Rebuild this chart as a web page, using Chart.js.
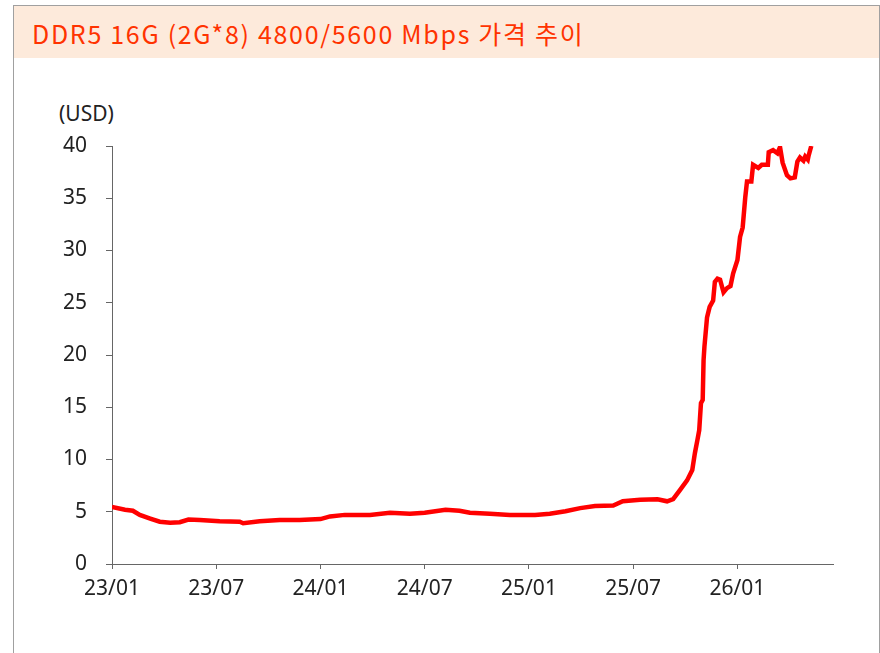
<!DOCTYPE html>
<html>
<head>
<meta charset="utf-8">
<script src="https://cdn.jsdelivr.net/npm/chart.js@4/dist/chart.umd.min.js"></script>
<style>
    html, body { margin: 0; padding: 0; background: #fff; }
    body { width: 880px; height: 653px; position: relative; overflow: hidden; }
    #frame {
        position: absolute; left: 13px; top: 5px; width: 865px; height: 660px;
        border: 1px solid #a0a0a0; border-bottom: none;
    }
    #titleBar {
        height: 52px; background: #fdeadb;
        font-family: "Noto Sans CJK KR", sans-serif; font-size: 25px; color: #ff3300;
        letter-spacing: 1.7px; line-height: 54px; padding-left: 18px; white-space: nowrap;
    }
    #unit {
        position: absolute; left: 59px; top: 103px; line-height: 21px;
        font-family: "Noto Sans", sans-serif; font-size: 21px; color: #222;
    }
    #wrap { position: absolute; left: 0; top: 0; width: 880px; height: 653px; }
</style>
</head>
<body>
<div id="frame"><div id="titleBar">DDR5 16G (2G*8) 4800/5600 Mbps 가격 추이</div></div>
<div id="unit">(USD)</div>
<div id="wrap"><canvas id="myChart" width="880" height="653"></canvas></div>
<script>
// months since 23/01
const monthPos = [
    0, 0.75, 1.2, 1.6, 2.2, 2.75, 3.35, 3.9, 4.4, 5.05,
    6.2, 7.35, 7.55, 8.5, 9.65, 10.8, 12.0, 12.55, 13.4, 14.85,
    16.0, 17.15, 18.0, 19.2, 20.0, 20.6, 21.75, 22.9, 24.35, 25.2,
    26.1, 26.95, 27.8, 28.85, 29.4, 30.4, 31.4, 31.95, 32.3, 32.7,
    33.1, 33.4, 33.55, 33.7, 33.8, 33.9, 34.0, 34.05, 34.1, 34.25,
    34.4, 34.6, 34.7, 34.85, 35.0, 35.2, 35.4, 35.6, 35.75, 36.0,
    36.15, 36.3, 36.45, 36.55, 36.8, 36.9, 37.2, 37.4, 37.75, 37.8,
    38.05, 38.3, 38.45, 38.6, 38.85, 39.05, 39.3, 39.45, 39.6, 39.8,
    39.9, 40.05, 40.1, 40.25
];
const priceUsd = [
    5.45, 5.2, 5.1, 4.7, 4.35, 4.05, 3.95, 4.0, 4.25, 4.2,
    4.1, 4.05, 3.9, 4.1, 4.2, 4.2, 4.3, 4.55, 4.7, 4.7,
    4.9, 4.8, 4.9, 5.2, 5.1, 4.9, 4.8, 4.7, 4.7, 4.8,
    5.05, 5.35, 5.55, 5.6, 6.0, 6.15, 6.2, 6.0, 6.2, 7.1,
    8.0, 9.0, 10.6, 11.9, 12.8, 15.4, 15.7, 19.5, 20.8, 23.6,
    24.6, 25.2, 27.0, 27.3, 27.2, 26.0, 26.4, 26.6, 27.8, 29.1,
    31.3, 32.2, 35.1, 36.6, 36.6, 38.2, 37.9, 38.2, 38.2, 39.4,
    39.6, 39.3, 39.9, 38.4, 37.2, 36.9, 37.0, 38.5, 38.9, 38.6,
    39.0, 38.7, 39.1, 40.0
];
const xTickLabels = ['23/01', '23/07', '24/01', '24/07', '25/01', '25/07', '26/01'];
const xTickMonths = [0, 6, 12, 18, 24, 30, 36];
const yTicks = [0, 5, 10, 15, 20, 25, 30, 35, 40];

const points = monthPos.map((m, i) => ({ x: m, y: priceUsd[i] }));
const tickFont = { family: 'Noto Sans', size: 21 };

const ctx = document.getElementById('myChart').getContext('2d');
const myChart = new Chart(ctx, {
    type: 'line',
    data: {
        datasets: [{
            data: points,
            borderColor: '#ff0000',
            borderWidth: 4.5,
            pointRadius: 0,
            tension: 0,
            fill: false
        }]
    },
    options: {
        responsive: false,
        animation: false,
        layout: { padding: { top: 146, right: 47, bottom: 0, left: 0 } },
        plugins: { legend: { display: false }, tooltip: { enabled: false } },
        scales: {
            x: {
                type: 'linear',
                min: 0,
                max: 41.5,
                afterBuildTicks: (scale) => { scale.ticks = xTickMonths.map(v => ({ value: v })); },
                afterFit: (scale) => { scale.height = 89; },
                ticks: {
                    font: tickFont,
                    color: '#222',
                    padding: 7,
                    maxRotation: 0,
                    callback: (value) => xTickLabels[xTickMonths.indexOf(value)]
                },
                grid: { drawOnChartArea: false, drawTicks: true, tickLength: 5, color: '#666' },
                border: { display: true, color: '#666', width: 1 }
            },
            y: {
                min: 0,
                max: 40,
                afterBuildTicks: (scale) => { scale.ticks = yTicks.map(v => ({ value: v })); },
                afterFit: (scale) => { scale.width = 112; },
                ticks: { font: tickFont, color: '#222', padding: 19 },
                grid: { drawOnChartArea: false, drawTicks: true, tickLength: 6, color: '#666' },
                border: { display: true, color: '#666', width: 1 }
            }
        }
    }
});
</script>
</body>
</html>
